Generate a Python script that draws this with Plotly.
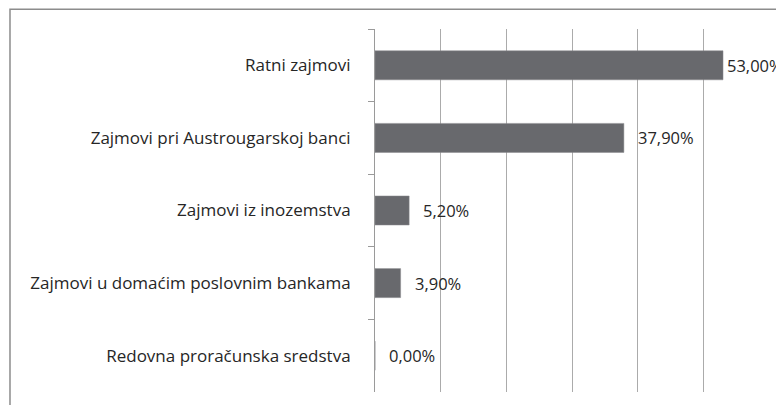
import plotly.graph_objects as go

categories = [
    "Ratni zajmovi",
    "Zajmovi pri Austrougarskoj banci",
    "Zajmovi iz inozemstva",
    "Zajmovi u domaćim poslovnim bankama",
    "Redovna proračunska sredstva",
]
values = [53.00, 37.90, 5.20, 3.90, 0.00]
value_labels = ["53,00%", "37,90%", "5,20%", "3,90%", "0,00%"]

FONT = "Open Sans"
TXT = "#262626"

fig = go.Figure()
fig.add_trace(go.Bar(
    x=values, y=categories, orientation="h",
    marker=dict(color="#68696d", line=dict(color="#8a8b8f", width=0.5)),
    width=0.4, hoverinfo="skip",
))

vmax = max(values)
for v, c, t in zip(values, categories, value_labels):
    fig.add_annotation(x=v, y=c, xref="x", yref="y", text=t, showarrow=False,
                       xanchor="left", yanchor="middle",
                       xshift=2 if v == vmax else 12,
                       font=dict(family=FONT, size=16.5, color=TXT))

# page has an 8px body offset; positions below compensate for it
L, R, T, B = 366.5, 22.7, 21.3, 21.3
W, H = 784, 405
pw, ph = W - L - R, H - T - B
fig.add_shape(type="rect", xref="paper", yref="paper",
              x0=(0.75 - L) / pw, x1=(W + 10 - L) / pw,
              y0=-(B + 10) / ph, y1=1 + (T - 1.5) / ph,
              line=dict(color="#8c8c8c", width=1.5), fillcolor="rgba(0,0,0,0)", layer="below")

fig.update_layout(
    width=W, height=H,
    margin=dict(l=L, r=R, t=T, b=B, pad=0),
    paper_bgcolor="white", plot_bgcolor="white",
    showlegend=False,
    font=dict(family=FONT, size=17, color=TXT),
    xaxis=dict(range=[0, 60], dtick=10, showgrid=True, gridcolor="#ababab", gridwidth=1,
               showticklabels=False, zeroline=False, showline=False, ticks=""),
    yaxis=dict(autorange="reversed", showline=True, linecolor="#9a9a9a", linewidth=1,
               ticks="outside", ticklen=6, tickcolor="#9a9a9a", tickson="boundaries",
               ticklabelstandoff=20, showgrid=False,
               tickfont=dict(family=FONT, size=17, color=TXT)),
)

fig.write_html("out.html")
